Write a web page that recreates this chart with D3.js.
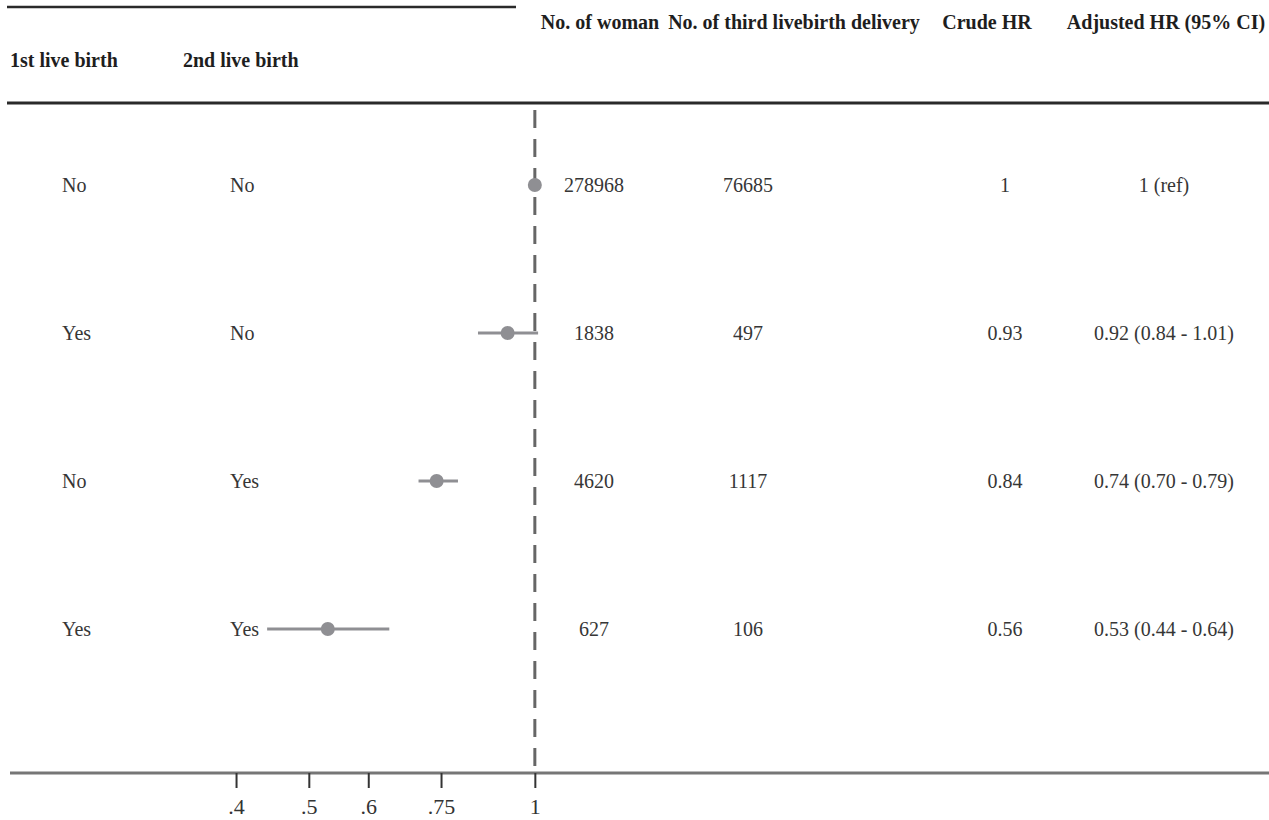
<!DOCTYPE html>
<html>
<head>
<meta charset="utf-8">
<script src="https://cdn.jsdelivr.net/npm/d3@7"></script>
<style>
	body { margin: 0; background: #fff; }
	svg { display: block; font-family: "Liberation Serif", "Times New Roman", serif; }
	.head { font-weight: bold; font-size: 20px; fill: #1e1e1e; }
	.cell { font-size: 20px; fill: #363636; }
</style>
</head>
<body>
<svg id="plot" width="1269" height="820"></svg>
<script>
// table rows (top to bottom)
const firstBirth = ["No", "Yes", "No", "Yes"];
const secondBirth = ["No", "No", "Yes", "Yes"];
const nWomen = [278968, 1838, 4620, 627];
const nThird = [76685, 497, 1117, 106];
const crudeHR = ["1", "0.93", "0.84", "0.56"];
const adjHR = [1, 0.92, 0.74, 0.53];
const adjLow = [null, 0.84, 0.70, 0.44];
const adjHigh = [null, 1.01, 0.79, 0.64];

const tickValues = [0.4, 0.5, 0.6, 0.75, 1];
const tickLabels = [".4", ".5", ".6", ".75", "1"];

function whenDocumentLoaded(action) {
	if (document.readyState === "loading") {
		document.addEventListener("DOMContentLoaded", action);
	} else {
		action();
	}
}

function adjLabel(i) {
	if (adjLow[i] == null) return adjHR[i] + " (ref)";
	const f = d3.format(".2f");
	return `${f(adjHR[i])} (${f(adjLow[i])} - ${f(adjHigh[i])})`;
}

whenDocumentLoaded(() => {
	const svg = d3.select("#plot");
	const rows = d3.range(firstBirth.length);

	// log scale for the hazard ratio, the axis runs across the whole page
	const x = d3.scaleLog().domain([0.2, 9.5]).range([10, 1269]);
	const y = d3.scalePoint().domain(rows).range([185, 629]);
	const axisY = 773;

	// rules of the table header
	svg.append("line")
		.attr("x1", 7).attr("x2", 516).attr("y1", 7).attr("y2", 7)
		.attr("stroke", "#2a2a2a").attr("stroke-width", 2.5);
	svg.append("line")
		.attr("x1", 7).attr("x2", 1269).attr("y1", 103).attr("y2", 103)
		.attr("stroke", "#2a2a2a").attr("stroke-width", 3);

	// headers
	const heads = [
		{ text: "1st live birth", x: 10, y: 67, anchor: "start" },
		{ text: "2nd live birth", x: 183, y: 67, anchor: "start" },
		{ text: "No. of woman", x: 600, y: 29, anchor: "middle" },
		{ text: "No. of third livebirth delivery", x: 794, y: 29, anchor: "middle" },
		{ text: "Crude HR", x: 987, y: 29, anchor: "middle" },
		{ text: "Adjusted HR (95% CI)", x: 1166, y: 29, anchor: "middle" }
	];
	svg.selectAll(".head")
		.data(heads)
		.join("text")
		.attr("class", "head")
		.attr("x", d => d.x)
		.attr("y", d => d.y)
		.attr("text-anchor", d => d.anchor)
		.text(d => d.text);

	// reference line at HR = 1
	svg.append("line")
		.attr("x1", x(1)).attr("x2", x(1))
		.attr("y1", 110).attr("y2", axisY)
		.attr("stroke", "#666").attr("stroke-width", 3)
		.attr("stroke-dasharray", "18 11");

	// table columns
	const columns = [
		{ values: firstBirth, x: 62, anchor: "start" },
		{ values: secondBirth, x: 230, anchor: "start" },
		{ values: nWomen, x: 594, anchor: "middle" },
		{ values: nThird, x: 748, anchor: "middle" },
		{ values: crudeHR, x: 1005, anchor: "middle" },
		{ values: rows.map(adjLabel), x: 1164, anchor: "middle" }
	];
	columns.forEach(col => {
		svg.append("g")
			.selectAll("text")
			.data(rows)
			.join("text")
			.attr("class", "cell")
			.attr("x", col.x)
			.attr("y", i => y(i) + 7)
			.attr("text-anchor", col.anchor)
			.text(i => col.values[i]);
	});

	// confidence intervals + point estimates
	const marks = svg.append("g");
	marks.selectAll("line")
		.data(rows.filter(i => adjLow[i] != null))
		.join("line")
		.attr("x1", i => x(adjLow[i]))
		.attr("x2", i => x(adjHigh[i]))
		.attr("y1", i => y(i))
		.attr("y2", i => y(i))
		.attr("stroke", "#8f8f93")
		.attr("stroke-width", 3);
	marks.selectAll("circle")
		.data(rows)
		.join("circle")
		.attr("cx", i => x(adjHR[i]))
		.attr("cy", i => y(i))
		.attr("r", 7)
		.attr("fill", "#8f8f93");

	// x axis
	svg.append("line")
		.attr("x1", 10).attr("x2", 1269).attr("y1", axisY).attr("y2", axisY)
		.attr("stroke", "#767676").attr("stroke-width", 3);
	const axis = svg.append("g")
		.attr("transform", `translate(0,${axisY})`)
		.call(d3.axisBottom(x)
			.tickValues(tickValues)
			.tickFormat((d, i) => tickLabels[i])
			.tickSize(15)
			.tickPadding(10));
	axis.select(".domain").remove();
	axis.selectAll(".tick line").attr("stroke", "#333").attr("stroke-width", 2);
	axis.selectAll(".tick text")
		.attr("font-family", "Liberation Serif, serif")
		.attr("font-size", 22)
		.attr("fill", "#333");
});
</script>
</body>
</html>
